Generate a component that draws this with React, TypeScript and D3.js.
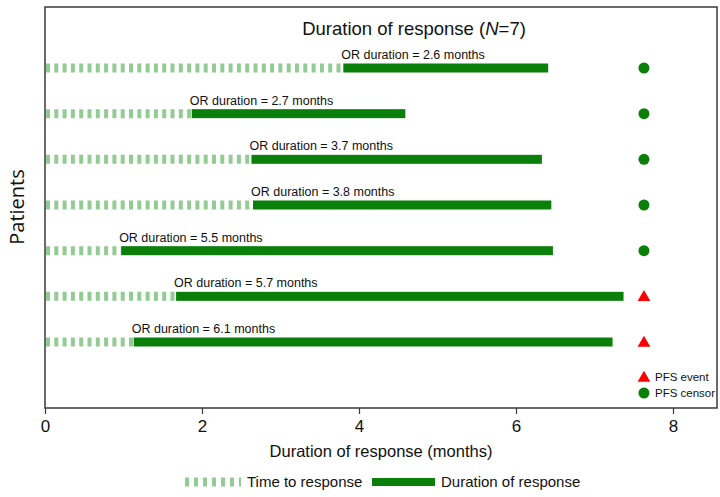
import React, { useEffect, useRef } from "react";
import * as d3 from "d3";

// one row per patient, top to bottom
const patients = ["P1", "P2", "P3", "P4", "P5", "P6", "P7"];
const responseStart = [3.8, 1.87, 2.63, 2.65, 0.97, 1.67, 1.13];
const responseEnd = [6.41, 4.59, 6.33, 6.45, 6.47, 7.37, 7.23];
const orDuration = ["2.6", "2.7", "3.7", "3.8", "5.5", "5.7", "6.1"];
const pfsStatus = ["censor", "censor", "censor", "censor", "censor", "event", "event"];
const pfsTime = 7.63;
const xTicks = [0, 2, 4, 6, 8];

const W = 720;
const H = 497;
const FONT = "'Liberation Sans', Arial, sans-serif";
const LIGHT = "#93cc93";
const DARK = "#0a7f0a";

const App: React.FC = () => {
    const svgRef = useRef<SVGSVGElement>(null);

    useEffect(() => {
        if (!svgRef.current) return;
        const svg = d3.select(svgRef.current);
        svg.selectAll("*").remove();

        const box = { left: 45, right: 717, top: 7, bottom: 408 };

        const x = d3.scaleLinear().domain([0, 8]).range([45, 673]);
        const y = d3.scalePoint<string>().domain(patients).range([68, 342]);

        svg.append("rect").attr("width", W).attr("height", H).attr("fill", "#fff");

        // plot frame
        svg.append("rect")
            .attr("x", box.left)
            .attr("y", box.top)
            .attr("width", box.right - box.left)
            .attr("height", box.bottom - box.top)
            .attr("fill", "none")
            .attr("stroke", "#3a3a3a")
            .attr("stroke-width", 1.5);

        // title
        const title = svg.append("text")
            .attr("x", 414)
            .attr("y", 35)
            .attr("text-anchor", "middle")
            .attr("font-family", FONT)
            .attr("font-size", 18.5)
            .attr("fill", "#111");
        title.append("tspan").text("Duration of response (");
        title.append("tspan").attr("font-style", "italic").text("N");
        title.append("tspan").text("=7)");

        // x axis
        const axis = svg.append("g")
            .attr("transform", `translate(0,${box.bottom})`)
            .call(d3.axisBottom(x).tickValues(xTicks).tickSize(6).tickFormat(d3.format("d")));
        axis.select(".domain").remove();
        axis.selectAll("line").attr("stroke", "#3a3a3a").attr("stroke-width", 1.2);
        axis.selectAll("text")
            .attr("font-family", FONT)
            .attr("font-size", 17)
            .attr("fill", "#111")
            .attr("dy", "0.9em");

        svg.append("text")
            .attr("x", (box.left + box.right) / 2)
            .attr("y", 457)
            .attr("text-anchor", "middle")
            .attr("font-family", FONT)
            .attr("font-size", 16.5)
            .attr("fill", "#111")
            .text("Duration of response (months)");

        svg.append("text")
            .attr("transform", `translate(24,${207}) rotate(-90)`)
            .attr("text-anchor", "middle")
            .attr("font-family", "'Open Sans', sans-serif")
            .attr("font-size", 20)
            .attr("fill", "#111")
            .text("Patients");

        const rows = patients.map((p, i) => ({
            p,
            start: responseStart[i],
            end: responseEnd[i],
            dur: orDuration[i],
            status: pfsStatus[i],
        }));

        // time to response (dashed)
        svg.append("g")
            .selectAll("line")
            .data(rows)
            .join("line")
            .attr("x1", x(0) + 1)
            .attr("x2", (d) => x(d.start))
            .attr("y1", (d) => y(d.p)!)
            .attr("y2", (d) => y(d.p)!)
            .attr("stroke", LIGHT)
            .attr("stroke-width", 9)
            .attr("stroke-dasharray", "4 4.3");

        // duration of response (solid)
        svg.append("g")
            .selectAll("rect")
            .data(rows)
            .join("rect")
            .attr("x", (d) => x(d.start))
            .attr("y", (d) => y(d.p)! - 4.5)
            .attr("width", (d) => x(d.end) - x(d.start))
            .attr("height", 9)
            .attr("fill", DARK);

        svg.append("g")
            .selectAll("text")
            .data(rows)
            .join("text")
            .attr("x", (d) => x(d.start) - 2)
            .attr("y", (d) => y(d.p)! - 9)
            .attr("font-family", FONT)
            .attr("font-size", 12.5)
            .attr("fill", "#111")
            .text((d) => `OR duration = ${d.dur} months`);

        // PFS markers
        const tri = d3.symbol().type(d3.symbolTriangle).size(70);
        rows.forEach((d) => {
            if (d.status === "event") {
                svg.append("path")
                    .attr("d", tri()!)
                    .attr("transform", `translate(${x(pfsTime)},${y(d.p)! + 1})`)
                    .attr("fill", "#ff0000");
            } else {
                svg.append("circle")
                    .attr("cx", x(pfsTime))
                    .attr("cy", y(d.p)!)
                    .attr("r", 5.5)
                    .attr("fill", DARK);
            }
        });

        // inner legend
        svg.append("path")
            .attr("d", tri()!)
            .attr("transform", `translate(${x(pfsTime)},378)`)
            .attr("fill", "#ff0000");
        svg.append("circle")
            .attr("cx", x(pfsTime))
            .attr("cy", 393)
            .attr("r", 5.5)
            .attr("fill", DARK);
        svg.append("text")
            .attr("x", 655)
            .attr("y", 381)
            .attr("font-family", FONT)
            .attr("font-size", 11.5)
            .attr("fill", "#111")
            .text("PFS event");
        svg.append("text")
            .attr("x", 655)
            .attr("y", 397)
            .attr("font-family", FONT)
            .attr("font-size", 11.5)
            .attr("fill", "#111")
            .text("PFS censor");

        // bottom legend
        svg.append("line")
            .attr("x1", 185)
            .attr("x2", 241)
            .attr("y1", 482)
            .attr("y2", 482)
            .attr("stroke", LIGHT)
            .attr("stroke-width", 9)
            .attr("stroke-dasharray", "4 5");
        svg.append("text")
            .attr("x", 247)
            .attr("y", 487)
            .attr("font-family", FONT)
            .attr("font-size", 15)
            .attr("fill", "#111")
            .text("Time to response");
        svg.append("rect")
            .attr("x", 372)
            .attr("y", 478)
            .attr("width", 63)
            .attr("height", 8)
            .attr("fill", DARK);
        svg.append("text")
            .attr("x", 441)
            .attr("y", 487)
            .attr("font-family", FONT)
            .attr("font-size", 15)
            .attr("fill", "#111")
            .text("Duration of response");
    }, []);

    return (
        <svg
            ref={svgRef}
            width={W}
            height={H}
            style={{ position: "absolute", left: 0, top: 0, display: "block" }}
        ></svg>
    );
};

export default App;
